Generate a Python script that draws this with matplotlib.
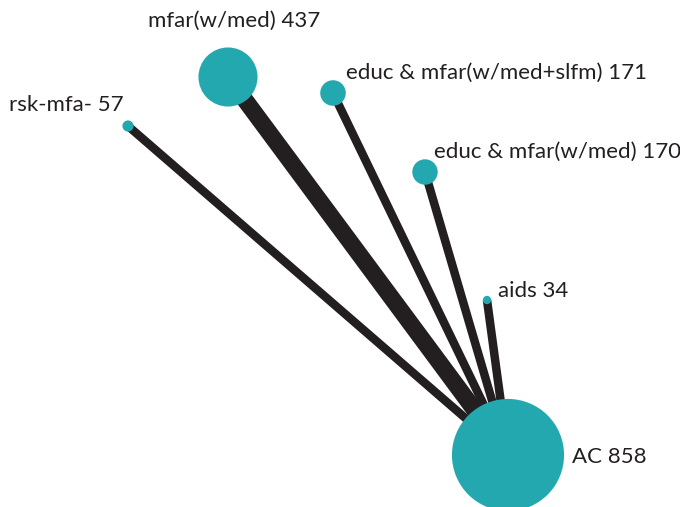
import matplotlib.pyplot as plt
from matplotlib.patches import Circle

plt.rcParams['font.family'] = ['Lato', 'DejaVu Sans']

# network of treatments, node value = number of patients
treatments = ['AC', 'mfar(w/med)', 'educ & mfar(w/med+slfm)', 'rsk-mfa-',
              'educ & mfar(w/med)', 'aids']
patients = [858, 437, 171, 57, 170, 34]

# layout coordinates (pixel space, y down)
node_x = [508, 228, 333, 128, 425, 487]
node_y = [455, 77, 93, 126, 172, 300]

# comparisons against AC and their weights
edges = [(0, 1), (0, 2), (0, 3), (0, 4), (0, 5)]
edge_weight = [2, 1, 1, 1, 1]

# label offset (dx, dy, ha) for each node
label_pos = [(64, 2, 'left'), (6, -56, 'center'), (13, -20, 'left'),
             (-4, -21, 'right'), (9, -20, 'left'), (11, -9, 'left')]

teal = '#23a8b0'
dark = '#231f20'

fig = plt.figure(figsize=(6.8, 5.07), dpi=100)
ax = fig.add_axes([0, 0, 1, 1])
ax.set_xlim(0, 680)
ax.set_ylim(507, 0)
ax.set_aspect('equal')
ax.axis('off')

px = 72 / fig.dpi
for (a, b), w in zip(edges, edge_weight):
    ax.plot([node_x[a], node_x[b]], [node_y[a], node_y[b]], color=dark,
            lw=8.5 * w * px, solid_capstyle='butt', zorder=1)

for name, n, x, y, (dx, dy, ha) in zip(treatments, patients, node_x, node_y, label_pos):
    r = 2 + 0.063 * n
    ax.add_patch(Circle((x, y), r, color=teal, lw=0, zorder=2))
    ax.text(x + dx, y + dy, f'{name} {n}', ha=ha, va='center',
            fontsize=16, color=dark, zorder=3)

fig.savefig('out.png', dpi=100)
